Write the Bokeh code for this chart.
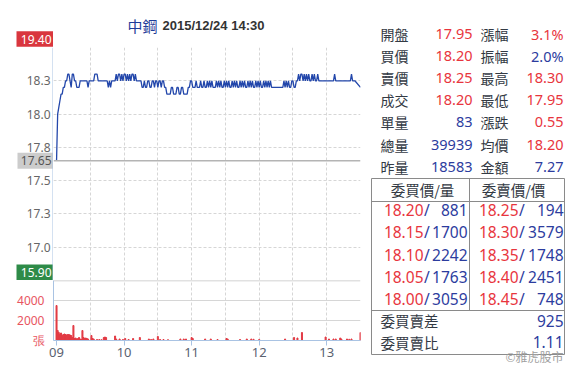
from bokeh.plotting import figure
from bokeh.models import Range1d, FixedTicker, Span
from bokeh.layouts import row, column
from bokeh.embed import file_html
from bokeh.resources import INLINE
from bokeh.core.properties import value

# ---------------- data ----------------
stock_name = "中鋼"
stamp = "2015/12/24 14:30"

# minutes after 09:00 (13:25-13:30 is the closing call auction)
minutes = list(range(0, 266)) + [270]
prices = [
    17.65, 18.00, 18.05, 18.10, 18.15, 18.15, 18.20, 18.20, 18.25, 18.25,
    18.30, 18.30, 18.25, 18.20, 18.30, 18.30, 18.25, 18.25, 18.20, 18.20,
    18.20, 18.25, 18.25, 18.25, 18.25, 18.25, 18.25, 18.25, 18.20, 18.25,
    18.25, 18.25, 18.25, 18.25, 18.30, 18.30, 18.30, 18.25, 18.25, 18.25,
    18.25, 18.25, 18.25, 18.25, 18.25, 18.25, 18.20, 18.25, 18.20, 18.25,
    18.25, 18.25, 18.25, 18.30, 18.25, 18.30, 18.30, 18.25, 18.30, 18.25,
    18.30, 18.30, 18.25, 18.30, 18.25, 18.30, 18.25, 18.30, 18.30, 18.25,
    18.30, 18.25, 18.25, 18.25, 18.25, 18.25, 18.20, 18.20, 18.25, 18.20,
    18.20, 18.25, 18.25, 18.20, 18.20, 18.25, 18.25, 18.20, 18.25, 18.25,
    18.20, 18.25, 18.25, 18.20, 18.25, 18.25, 18.20, 18.20, 18.15, 18.15,
    18.15, 18.15, 18.20, 18.20, 18.15, 18.15, 18.15, 18.20, 18.20, 18.15,
    18.15, 18.20, 18.20, 18.15, 18.15, 18.15, 18.15, 18.20, 18.20, 18.25,
    18.25, 18.20, 18.20, 18.20, 18.25, 18.20, 18.20, 18.20, 18.25, 18.20,
    18.20, 18.25, 18.20, 18.20, 18.25, 18.20, 18.25, 18.20, 18.25, 18.20,
    18.20, 18.20, 18.25, 18.20, 18.25, 18.20, 18.25, 18.20, 18.20, 18.25,
    18.20, 18.25, 18.20, 18.25, 18.20, 18.20, 18.25, 18.20, 18.25, 18.20,
    18.25, 18.20, 18.20, 18.25, 18.20, 18.25, 18.20, 18.25, 18.20, 18.20,
    18.25, 18.20, 18.25, 18.20, 18.25, 18.20, 18.20, 18.25, 18.20, 18.25,
    18.20, 18.25, 18.20, 18.20, 18.25, 18.20, 18.25, 18.20, 18.25, 18.20,
    18.25, 18.20, 18.20, 18.20, 18.20, 18.20, 18.20, 18.20, 18.20, 18.20,
    18.20, 18.20, 18.25, 18.20, 18.25, 18.20, 18.25, 18.20, 18.20, 18.25,
    18.25, 18.20, 18.20, 18.25, 18.25, 18.30, 18.25, 18.30, 18.30, 18.25,
    18.30, 18.25, 18.30, 18.25, 18.30, 18.25, 18.25, 18.30, 18.25, 18.30,
    18.25, 18.25, 18.30, 18.25, 18.25, 18.25, 18.25, 18.25, 18.25, 18.25,
    18.25, 18.25, 18.25, 18.25, 18.25, 18.25, 18.25, 18.30, 18.25, 18.25,
    18.25, 18.25, 18.25, 18.25, 18.25, 18.25, 18.25, 18.25, 18.25, 18.25,
    18.25, 18.25, 18.30, 18.25, 18.25, 18.25,
    18.20,
]

vol_minutes = [0, 1, 2, 3, 4, 5, 6, 7, 8, 9, 10, 11, 12, 13, 14, 15, 16, 17, 18, 19,
               20, 21, 22, 23, 24, 25, 26, 27, 28, 31, 32, 33, 36, 38, 40, 42, 43, 44,
               52, 53, 56, 59, 61, 64, 68, 74, 82, 84, 86, 90, 92, 95, 99, 110, 113,
               115, 120, 121, 132, 137, 143, 151, 152, 163, 169, 173, 175, 180, 203,
               211, 214, 218, 239, 242, 246, 248, 252, 253, 258, 260, 262, 270]
vol_values = [3500, 1000, 800, 600, 750, 500, 600, 650, 600, 550, 600, 600, 550, 500,
              300, 1500, 200, 250, 150, 200, 300, 150, 100, 1000, 300, 200, 250, 200,
              150, 500, 200, 150, 100, 100, 80, 300, 350, 300, 450, 150, 150, 100, 200,
              100, 200, 300, 150, 100, 150, 400, 100, 100, 80, 150, 150, 150, 300, 200,
              150, 150, 100, 200, 150, 100, 150, 150, 120, 100, 150, 300, 250, 800, 350,
              150, 150, 150, 250, 150, 150, 120, 150, 800]

limit_up, ref_price, limit_down = "19.40", 17.65, "15.90"
price_top, price_bottom = 18.5, 16.75
price_ticks = [17.0, 17.25, 17.5, 17.75, 18.0, 18.25]
price_tick_labels = ["17.0", "17.3", "17.5", "17.8", "18.0", "18.3"]
price_grid = [17.0, 17.25, 17.5, 17.75, 18.0, 18.25, 18.5]
vol_ticks = [0, 2000, 4000]
vol_tick_labels = ["張", "2000", "4000"]
hour_ticks = [0, 60, 120, 180, 240]
hour_labels = ["09", "10", "11", "12", "13"]
half_hours = [30, 60, 90, 120, 150, 180, 210, 240, 270]

quote_left_labels = ["開盤", "買價", "賣價", "成交", "單量", "總量", "昨量"]
quote_left_values = ["17.95", "18.20", "18.25", "18.20", "83", "39939", "18583"]
quote_left_up = [True, True, True, True, False, False, False]
quote_right_labels = ["漲幅", "振幅", "最高", "最低", "漲跌", "均價", "金額"]
quote_right_values = ["3.1%", "2.0%", "18.30", "17.95", "0.55", "18.20", "7.27"]
quote_right_up = [True, False, True, True, True, True, False]

bid_prices = ["18.20", "18.15", "18.10", "18.05", "18.00"]
bid_volumes = [881, 1700, 2242, 1763, 3059]
ask_prices = ["18.25", "18.30", "18.35", "18.40", "18.45"]
ask_volumes = [194, 3579, 1748, 2451, 748]
bid_ask_diff = "925"
bid_ask_ratio = "1.11"

# ---------------- style ----------------
RED = "#e8353d"
BLUE = "#2c3c9e"
DARK = "#333a44"
AXIS_BLUE = "#a9c3e3"
GRID = "#d6d6d6"
NUM_FONT = "Noto Sans"
CJK_FONT = "Noto Sans CJK TC"


def bare(width, height, x_range, y_range, **kw):
    opts = dict(min_border=0)
    opts.update(kw)
    fig = figure(width=width, height=height, x_range=x_range, y_range=y_range,
                 output_backend="svg", toolbar_location=None, x_axis_location=None,
                 y_axis_location=None, outline_line_color=None,
                 background_fill_color="white", border_fill_color="white", **opts)
    fig.grid.visible = False
    return fig


xr = Range1d(-2.7, 270)
yr_price = Range1d(price_bottom, price_top)

# ---------------- title strip ----------------
gt = bare(53, 47, Range1d(0, 53), Range1d(47, 0))
gt.rect(x=[34.5], y=[38.5], width=[37], height=[15.5], fill_color="#d9363e", line_color=None)
gt.text(x=[51], y=[38.5], text=[limit_up], text_align="right", text_baseline="middle",
        text_font=value(NUM_FONT), text_font_size="12px", text_color="white")

tf = bare(317, 47, Range1d(53, 360), Range1d(47, 0), min_border_right=10)
tf.text(x=[127], y=[25], text=[stock_name], text_baseline="middle",
        text_font=value(CJK_FONT), text_font_size="15px", text_color="#1f3d99")
tf.text(x=[162], y=[25], text=[stamp], text_baseline="middle",
        text_font=value("Liberation Sans"), text_font_size="13px",
        text_font_style="bold", text_color="#333333")

# ---------------- price gutter (labels of the price scale) ----------------
gp = bare(53, 233, Range1d(0, 53), yr_price)
gp.text(x=[50] * len(price_ticks), y=price_ticks, text=price_tick_labels, text_align="right",
        text_baseline="middle", text_font=value(NUM_FONT), text_font_size="12px",
        text_color="#666666")
gp.rect(x=[35], y=[ref_price], width=[36], height=[16], height_units="screen",
        fill_color="#cccccc", line_color=None)
gp.text(x=[51], y=[ref_price], text=[f"{ref_price:.2f}"], text_align="right",
        text_baseline="middle", text_font=value(NUM_FONT), text_font_size="12px",
        text_color="#555555")
gp.rect(x=[34.5], y=[price_bottom], width=[37], height=[32], height_units="screen",
        fill_color="#2e8b48", line_color=None)
gp.text(x=[51], y=[price_bottom], y_offset=-8, text=[limit_down], text_align="right",
        text_baseline="middle", text_font=value(NUM_FONT), text_font_size="12px",
        text_color="white")
gp.add_layout(Span(location=52.5, dimension="height", line_color=AXIS_BLUE, line_width=1))

# ---------------- price panel ----------------
pp = figure(width=317, height=233, x_range=xr, y_range=yr_price,
            output_backend="svg", toolbar_location=None, x_axis_location=None,
            y_axis_location=None,
            min_border_left=0, min_border_right=10, min_border_top=0, min_border_bottom=0,
            outline_line_color=None, background_fill_color="white", border_fill_color="white")
pp.xgrid.ticker = FixedTicker(ticks=half_hours)
pp.ygrid.ticker = FixedTicker(ticks=price_grid)
pp.grid.grid_line_color = GRID
pp.grid.grid_line_dash = "3 2"
pp.add_layout(Span(location=ref_price, dimension="width", line_color="#b4b4b4", line_width=1.5))
pp.line(minutes, prices, line_color="#2347ab", line_width=1.3)

# ---------------- volume panel ----------------
pv = figure(width=370, height=94, x_range=xr, y_range=Range1d(0, 6000),
            output_backend="svg", toolbar_location=None,
            min_border_left=53, min_border_right=10, min_border_top=0, min_border_bottom=34,
            outline_line_color=None, background_fill_color="white", border_fill_color="white")
pv.vbar(x=vol_minutes, top=vol_values, width=0.9, color="#e23a44")
pv.yaxis.ticker = FixedTicker(ticks=vol_ticks)
pv.yaxis.major_label_overrides = dict(zip(vol_ticks, vol_tick_labels))
pv.yaxis.axis_line_color = AXIS_BLUE
pv.yaxis.major_tick_line_color = None
pv.yaxis.minor_tick_line_color = None
pv.yaxis.major_label_text_color = "#e8555f"
pv.yaxis.major_label_text_font = NUM_FONT
pv.yaxis.major_label_text_font_size = "12px"
pv.yaxis.major_label_standoff = 3
pv.xaxis.ticker = FixedTicker(ticks=hour_ticks)
pv.xaxis.major_label_overrides = dict(zip(hour_ticks, hour_labels))
pv.xaxis.axis_line_color = AXIS_BLUE
pv.xaxis.major_tick_line_color = AXIS_BLUE
pv.xaxis.major_tick_out = 5
pv.xaxis.major_tick_in = 0
pv.xaxis.minor_tick_line_color = None
pv.xaxis.major_label_text_color = "#5a6270"
pv.xaxis.major_label_text_font = NUM_FONT
pv.xaxis.major_label_text_font_size = "13px"
pv.xaxis.major_label_standoff = 2
pv.xgrid.ticker = FixedTicker(ticks=half_hours)
pv.xgrid.grid_line_color = GRID
pv.xgrid.grid_line_dash = "3 2"
pv.ygrid.ticker = FixedTicker(ticks=[2000, 4000])
pv.ygrid.grid_line_color = GRID
pv.add_layout(Span(location=6000, dimension="width", line_color="#c4c4c4", line_width=1.5))

# ---------------- quote table ----------------
pt = bare(214, 374, Range1d(0, 214), Range1d(374, 0))

row_y = [33.3, 55.3, 77.5, 99.6, 121.8, 144, 166]
pt.text(x=[10] * 7, y=row_y, text=quote_left_labels, text_align="left", text_baseline="middle",
        text_font=value(CJK_FONT), text_font_size="14px", text_color=DARK)
pt.text(x=[110] * 7, y=row_y, text=quote_right_labels, text_align="left", text_baseline="middle",
        text_font=value(CJK_FONT), text_font_size="14px", text_color=DARK)
pt.text(x=[102] * 7, y=row_y, text=quote_left_values, text_align="right", text_baseline="middle",
        text_font=value(NUM_FONT), text_font_size="14.5px",
        text_color=[RED if u else BLUE for u in quote_left_up])
pt.text(x=[193] * 7, y=row_y, text=quote_right_values, text_align="right", text_baseline="middle",
        text_font=value(NUM_FONT), text_font_size="14.5px",
        text_color=[RED if u else BLUE for u in quote_right_up])

pt.quad(left=[1], right=[194], top=[178], bottom=[354], fill_color=None, line_color="#8a8a8a", line_width=1)
pt.segment(x0=[1, 1, 99], y0=[201, 310, 178], x1=[194, 194, 99], y1=[201, 310, 310],
           line_color="#8a8a8a", line_width=1)
pt.text(x=[52, 143], y=[188.5, 188.5], text=["委買價/量", "委賣價/價"], text_align="center",
        text_baseline="middle", text_font=value(CJK_FONT), text_font_size="14.5px", text_color=DARK)

book_y = [209.5, 231.8, 254, 276.2, 298.4]
BOOK_SIZE = "15.5px"
pt.text(x=[53] * 5, y=book_y, text=bid_prices, text_align="right", text_baseline="middle",
        text_font=value(NUM_FONT), text_font_size=BOOK_SIZE, text_color=RED)
pt.text(x=[53.5] * 5, y=book_y, text=["/"] * 5, text_align="left", text_baseline="middle",
        text_font=value(NUM_FONT), text_font_size=BOOK_SIZE, text_color=BLUE)
pt.text(x=[97] * 5, y=book_y, text=[str(v) for v in bid_volumes], text_align="right",
        text_baseline="middle", text_font=value(NUM_FONT), text_font_size=BOOK_SIZE, text_color=BLUE)
pt.text(x=[148] * 5, y=book_y, text=ask_prices, text_align="right", text_baseline="middle",
        text_font=value(NUM_FONT), text_font_size=BOOK_SIZE, text_color=RED)
pt.text(x=[148.5] * 5, y=book_y, text=["/"] * 5, text_align="left", text_baseline="middle",
        text_font=value(NUM_FONT), text_font_size=BOOK_SIZE, text_color=BLUE)
pt.text(x=[193] * 5, y=book_y, text=[str(v) for v in ask_volumes], text_align="right",
        text_baseline="middle", text_font=value(NUM_FONT), text_font_size=BOOK_SIZE, text_color=BLUE)

pt.text(x=[10, 10], y=[320, 341.5], text=["委買賣差", "委買賣比"], text_align="left",
        text_baseline="middle", text_font=value(CJK_FONT), text_font_size="14.5px", text_color=DARK)
pt.text(x=[193, 193], y=[320, 341.5], text=[bid_ask_diff, bid_ask_ratio], text_align="right",
        text_baseline="middle", text_font=value(NUM_FONT), text_font_size=BOOK_SIZE, text_color=BLUE)
pt.text(x=[193], y=[356], text=["©雅虎股市"], text_align="right", text_baseline="middle",
        text_font=value(CJK_FONT), text_font_size="12px", text_color="#a0a0a0")

layout = row(column(row(gt, tf), row(gp, pp), pv), pt)
open("out.html", "w").write(file_html(layout, INLINE))
